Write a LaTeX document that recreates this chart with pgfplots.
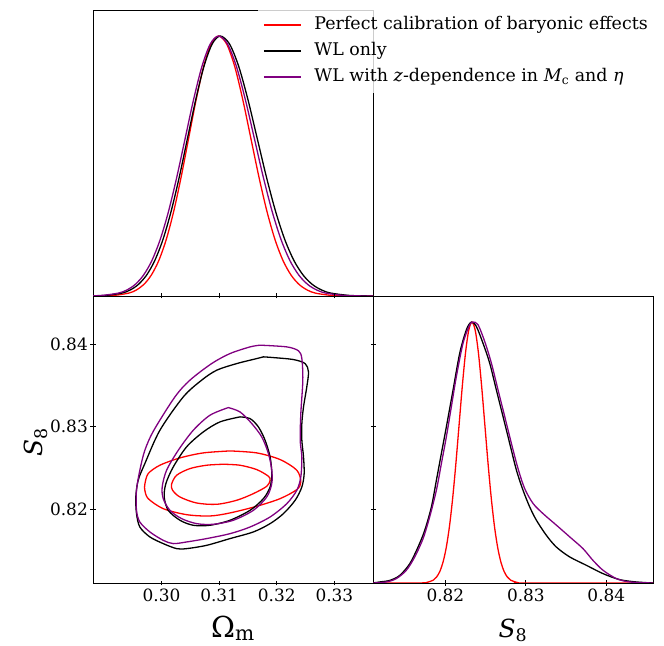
\documentclass[border=0pt]{standalone}
\usepackage{fontspec}
\setmainfont{DejaVu Serif}
\usepackage{pgfplots}
\pgfplotsset{compat=1.18}
\definecolor{wlpurple}{HTML}{800080}

\pgfplotsset{
  corner/.style={
    scale only axis,
    width=280bp,
    axis line style={line width=0.8bp},
    tick style={black, line width=0.8bp},
    major tick length=5bp,
    tick align=center,
    /pgf/number format/assume math mode=true,
    /pgf/number format/fixed,
    /pgf/number format/fixed zerofill,
    /pgf/number format/precision=2,
    tick label style={font=\fontsize{17}{20}\selectfont},
    yticklabel style={inner xsep=2.5bp},
    every axis plot/.append style={line width=1.3bp, smooth},
  }
}

\begin{document}
\begin{tikzpicture}
\useasboundingbox (0,0) rectangle (664bp,646bp);

% Omega_m marginal
\begin{axis}[corner,
  at={(93bp,350bp)}, anchor=south west, height=286bp,
  xmin=0.2881, xmax=0.3367, ymin=0, ymax=1.1,
  xtick={0.30,0.31,0.32,0.33}, xticklabels={}, xtick pos=lower,
  ytick=\empty,
  legend style={at={(axis description cs:0.589,1.004)}, anchor=north west,
    fill=white, fill opacity=0.8, text opacity=1, draw=none,
    inner xsep=5bp, inner ysep=8bp,
    font=\fontsize{17.5}{20}\selectfont,
    row sep=10bp, column sep=13bp,
    nodes={inner sep=0pt, text height=12.5bp, text depth=3.5bp},
    cells={anchor=west}},
  legend image code/.code={\draw[#1] (0bp,0bp) -- (37bp,0bp);},
]
\addplot[red] coordinates {
(0.2881,0) (0.2891,0.0003) (0.2917,0.0022) (0.2943,0.0111) (0.2956,0.0228) (0.2969,0.0439)
(0.2982,0.0796) (0.2995,0.1353) (0.3008,0.2163) (0.3021,0.3247) (0.3034,0.4578)
(0.3047,0.6065) (0.3060,0.7548) (0.3073,0.8825) (0.3086,0.9692) (0.3099,1)
(0.3113,0.9692) (0.3127,0.8825) (0.3141,0.7548) (0.3155,0.6065) (0.3169,0.4578)
(0.3183,0.3247) (0.3197,0.2163) (0.3211,0.1353) (0.3225,0.0796) (0.3239,0.0439)
(0.3253,0.0228) (0.3267,0.0111) (0.3295,0.0022) (0.3323,0.0003) (0.3367,0)
};
\addlegendentry{Perfect calibration of baryonic effects}
\addplot[black] coordinates {
(0.2874,0.0003) (0.29025,0.0022) (0.2931,0.0111) (0.29453,0.0228) (0.29595,0.0439)
(0.29738,0.0796) (0.2988,0.1353) (0.30023,0.2163) (0.30165,0.3247) (0.30308,0.4578)
(0.3045,0.6065) (0.30593,0.7548) (0.30735,0.8825) (0.30878,0.9692) (0.3102,1)
(0.3118,0.9692) (0.3134,0.8825) (0.3150,0.7548) (0.3166,0.6065) (0.3182,0.4578)
(0.3198,0.3247) (0.3214,0.2163) (0.3230,0.1353) (0.3246,0.0796) (0.3262,0.0439)
(0.3278,0.0228) (0.3294,0.0111) (0.3326,0.0022) (0.3358,0.0003) (0.3367,0.0001)
};
\addlegendentry{WL only}
\addplot[wlpurple] coordinates {
(0.2867,0.0003) (0.2896,0.0022) (0.2925,0.0111) (0.29395,0.0228) (0.2954,0.0439)
(0.29685,0.0796) (0.2983,0.1353) (0.29975,0.2163) (0.3012,0.3247) (0.30265,0.4578)
(0.3041,0.6065) (0.30555,0.7548) (0.3070,0.8825) (0.30845,0.9692) (0.3099,1)
(0.31145,0.9692) (0.3130,0.8825) (0.31455,0.7548) (0.3161,0.6065) (0.31765,0.4578)
(0.3192,0.3247) (0.32075,0.2163) (0.3223,0.1353) (0.32385,0.0796) (0.3254,0.0439)
(0.32695,0.0228) (0.3285,0.0111) (0.3316,0.0022) (0.3347,0.0003) (0.3367,0)
};
\addlegendentry{WL with \textit{z}-dependence in \textit{M}\textsubscript{c} and \textit{η}}
\end{axis}

% 2D contours
\begin{axis}[corner,
  at={(93bp,63bp)}, anchor=south west, height=287bp,
  xmin=0.2881, xmax=0.3367, ymin=0.8110, ymax=0.8459,
  xtick={0.30,0.31,0.32,0.33}, xtick pos=both, xticklabel pos=lower,
  ytick={0.82,0.83,0.84}, ytick pos=both, yticklabel pos=left,
  xlabel={Ω\textsubscript{m}},
  xlabel style={at={(axis description cs:0.5,-0.189)}, anchor=base,
    font=\fontsize{29}{32}\selectfont},
  ylabel={\textit{S}\textsubscript{8}},
  ylabel style={at={(axis description cs:-0.179,0.49)}, anchor=base,
    font=\fontsize{25}{30}\selectfont},
]
\addplot[red] coordinates {
(0.31072,0.82544) (0.31362,0.82532) (0.31652,0.82479) (0.31855,0.82398) (0.31884,0.82349)
(0.31826,0.82276) (0.31594,0.82187) (0.31304,0.82106) (0.30956,0.82057) (0.30608,0.82073)
(0.30319,0.82146) (0.30191,0.82228) (0.30174,0.82301) (0.30261,0.82410) (0.30492,0.82491)
(0.30782,0.82532) (0.31072,0.82544)
};
\addplot[red] coordinates {
(0.31188,0.82706) (0.31652,0.82682) (0.32058,0.82601) (0.32348,0.82471) (0.32417,0.82329)
(0.32348,0.82236) (0.32058,0.82126) (0.31652,0.82033) (0.31188,0.81952) (0.30840,0.81915)
(0.30435,0.81931) (0.30029,0.82004) (0.29768,0.82126) (0.29710,0.82228) (0.29710,0.82301)
(0.29768,0.82430) (0.29971,0.82532) (0.30319,0.82621) (0.30724,0.82682) (0.31188,0.82706)
};
\addplot[black] coordinates {
(0.31362,0.83120) (0.31536,0.83099) (0.31681,0.82998) (0.31797,0.82836) (0.31884,0.82633)
(0.31913,0.82430) (0.31884,0.82268) (0.31768,0.82126) (0.31536,0.81984) (0.31188,0.81863)
(0.30840,0.81802) (0.30550,0.81802) (0.30319,0.81863) (0.30116,0.81984) (0.30046,0.82146)
(0.30075,0.82309) (0.30203,0.82511) (0.30434,0.82755) (0.30724,0.82937) (0.31014,0.83059)
(0.31362,0.83120)
};
\addplot[black] coordinates {
(0.31768,0.83850) (0.31942,0.83841) (0.32290,0.83817) (0.32492,0.83768) (0.32550,0.83667)
(0.32521,0.83485) (0.32464,0.83241) (0.32435,0.83039) (0.32435,0.82836) (0.32464,0.82633)
(0.32475,0.82430) (0.32435,0.82268) (0.32319,0.82106) (0.32116,0.81944) (0.31884,0.81822)
(0.31594,0.81721) (0.31188,0.81640) (0.30782,0.81558) (0.30434,0.81518) (0.30261,0.81518)
(0.30029,0.81579) (0.29797,0.81660) (0.29623,0.81781) (0.29565,0.81944) (0.29553,0.82146)
(0.29594,0.82349) (0.29710,0.82552) (0.29971,0.82957) (0.30377,0.83363) (0.30695,0.83566)
(0.30956,0.83687) (0.31304,0.83768) (0.31652,0.83829) (0.31768,0.83850)
};
\addplot[wlpurple] coordinates {
(0.31159,0.83233) (0.31362,0.83180) (0.31565,0.83039) (0.31739,0.82876) (0.31855,0.82674)
(0.31913,0.82471) (0.31913,0.82309) (0.31826,0.82146) (0.31594,0.81984) (0.31246,0.81863)
(0.30898,0.81814) (0.30608,0.81822) (0.30348,0.81883) (0.30145,0.81984) (0.30029,0.82126)
(0.30011,0.82268) (0.30087,0.82471) (0.30290,0.82714) (0.30550,0.82957) (0.30840,0.83140)
(0.31159,0.83233)
};
\addplot[wlpurple] coordinates {
(0.31710,0.83992) (0.32174,0.83971) (0.32377,0.83923) (0.32435,0.83829) (0.32452,0.83566)
(0.32417,0.83160) (0.32406,0.82836) (0.32435,0.82633) (0.32417,0.82390) (0.32348,0.82228)
(0.32174,0.82065) (0.31884,0.81903) (0.31536,0.81781) (0.31188,0.81700) (0.30782,0.81640)
(0.30435,0.81599) (0.30203,0.81579) (0.30029,0.81619) (0.29797,0.81721) (0.29623,0.81842)
(0.29565,0.81984) (0.29565,0.82228) (0.29623,0.82471) (0.29710,0.82714) (0.29866,0.82957)
(0.30232,0.83363) (0.30492,0.83566) (0.30869,0.83768) (0.31188,0.83890) (0.31536,0.83971)
(0.31710,0.83992)
};
\end{axis}

% S8 marginal
\begin{axis}[corner,
  at={(373bp,63bp)}, anchor=south west, height=287bp,
  xmin=0.8110, xmax=0.8458, ymin=0, ymax=1.1,
  xtick={0.82,0.83,0.84}, xtick pos=lower,
  ytick=\empty,
  xlabel={\textit{S}\textsubscript{8}},
  xlabel style={at={(axis description cs:0.5,-0.189)}, anchor=base,
    font=\fontsize{25}{30}\selectfont},
]
\addplot[red] coordinates {
(0.8110,0) (0.8169,0.0003) (0.8177,0.0022) (0.8185,0.0111) (0.8189,0.0228) (0.8193,0.0439)
(0.8197,0.0796) (0.8201,0.1353) (0.8205,0.2163) (0.8209,0.3247) (0.8213,0.4578)
(0.8217,0.6065) (0.8221,0.7548) (0.8225,0.8825) (0.8229,0.9692) (0.8233,1)
(0.8237,0.9692) (0.8241,0.8825) (0.8245,0.7548) (0.8249,0.6065) (0.8253,0.4578)
(0.8257,0.3247) (0.8261,0.2163) (0.8265,0.1353) (0.8269,0.0796) (0.8273,0.0439)
(0.8277,0.0228) (0.8281,0.0111) (0.8289,0.0022) (0.8297,0.0003) (0.8458,0)
};
\addplot[black] coordinates {
(0.8110,0) (0.81184,0.004) (0.81308,0.010) (0.81432,0.029) (0.81557,0.074) (0.81660,0.138)
(0.81743,0.202) (0.81826,0.292) (0.81888,0.394) (0.81950,0.497) (0.82012,0.599)
(0.82095,0.740) (0.82178,0.881) (0.82261,0.971) (0.82323,1.0) (0.82385,0.983)
(0.82467,0.919) (0.82550,0.843) (0.82633,0.740) (0.82716,0.638) (0.82799,0.535)
(0.82882,0.433) (0.82964,0.356) (0.83047,0.292) (0.83130,0.241) (0.83254,0.183)
(0.83378,0.138) (0.83544,0.100) (0.83751,0.068) (0.83958,0.036) (0.84165,0.013)
(0.84373,0.004) (0.8458,0)
};
\addplot[wlpurple] coordinates {
(0.8110,0) (0.81267,0.004) (0.81391,0.017) (0.81515,0.049) (0.81619,0.100) (0.81722,0.170)
(0.81805,0.254) (0.81888,0.356) (0.81950,0.458) (0.82012,0.561) (0.82074,0.676)
(0.82136,0.791) (0.82219,0.919) (0.82302,0.990) (0.82343,1.0) (0.82405,0.990)
(0.82488,0.926) (0.82571,0.843) (0.82654,0.740) (0.82737,0.638) (0.82820,0.535)
(0.82902,0.439) (0.82985,0.362) (0.83089,0.305) (0.83213,0.266) (0.83378,0.222)
(0.83544,0.177) (0.83709,0.132) (0.83833,0.087) (0.83958,0.049) (0.84124,0.017)
(0.84289,0.004) (0.8458,0)
};
\end{axis}
\end{tikzpicture}
\end{document}
